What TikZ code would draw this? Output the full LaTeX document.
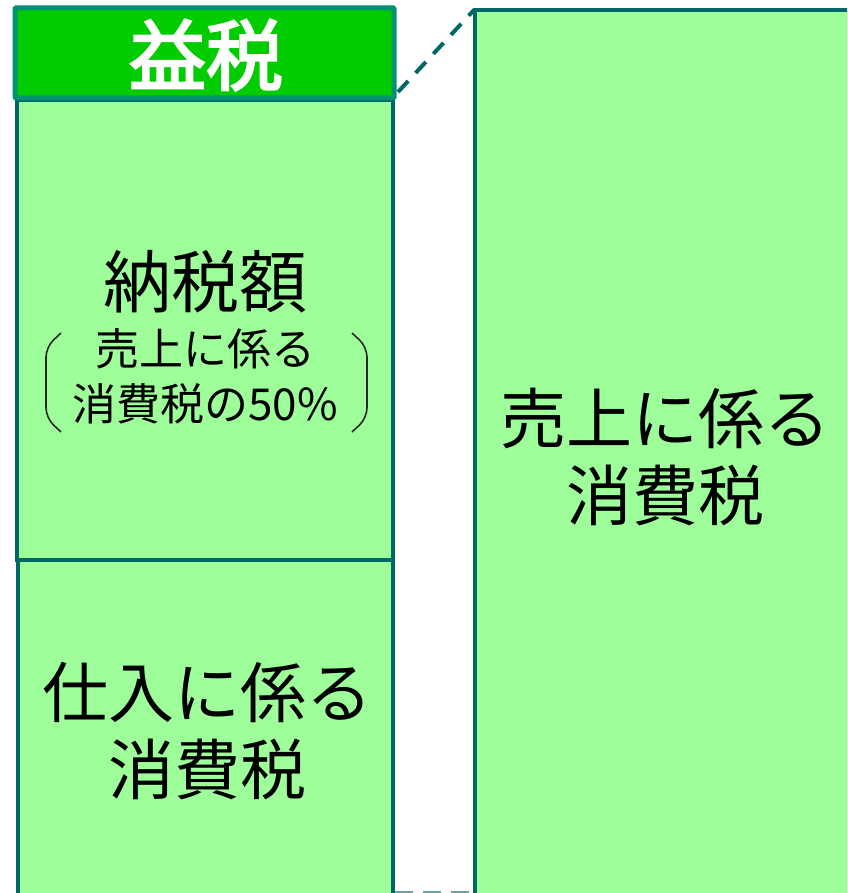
\documentclass[tikz,border=0pt]{standalone}
\usepackage{fontspec}
\newfontfamily\jp{Noto Sans CJK JP}
\newfontfamily\jpm[FakeBold=3]{Noto Sans CJK JP}
\definecolor{lightg}{RGB}{158,255,154}
\definecolor{darkteal}{RGB}{0,102,102}
\definecolor{topfill}{RGB}{0,204,0}
\definecolor{topedge}{RGB}{0,145,110}
\definecolor{brk}{RGB}{40,40,40}
\tikzset{
  box/.style={fill=lightg, draw=darkteal, line width=4.5pt},
  topbox/.style={fill=topfill, draw=topedge, line width=5pt, rounded corners=1pt},
  big/.style={font=\jp\fontsize{66}{77}\selectfont, align=center, inner sep=0pt},
  mid/.style={font=\jp\fontsize{68}{80}\selectfont, inner sep=0pt},
  small/.style={font=\jp\fontsize{44}{55}\selectfont, align=center, inner sep=0pt},
  guide/.style={draw=darkteal, line width=4pt, dash pattern=on 15pt off 11pt}
}
\begin{document}
\begin{tikzpicture}[x=1pt,y=-1pt]
\useasboundingbox (0,0) rectangle (847,893);
\clip (0,0) rectangle (847,893);
% right box
\draw[box] (475,10) rectangle (900,950);
% left stacked boxes
\draw[box] (18,560) rectangle (393,950);
\draw[box] (17,100) rectangle (393,560);
\draw[topbox] (15,8) rectangle (394,98);
% dashed guides
\coordinate (g1) at (398,92);
\coordinate (g2) at (474,10);
\draw[guide] (g1) -- (g2);
\coordinate (g3) at (395,892);
\coordinate (g4) at (475,892);
\draw[draw=darkteal!60, line width=2pt, dash pattern=on 18pt off 10pt] (g3) -- (g4);
% texts
\node[font=\jpm\fontsize{77}{80}\selectfont, text=white, inner sep=0pt] (ekizei) at (206,55) {益税};
\node[mid] (nozei) at (205,282) {納税額};
\node[small] (detail) at (205,376) {売上に係る\\消費税の50\%};
\node[big] (shiire) at (207,731) {仕入に係る\\消費税};
\node[big] (uriage) at (665,457) {売上に係る\\消費税};
% brackets
\draw[brk, line width=1.6pt, rounded corners=10pt] (61,333) -- (46,347) -- (46,418) -- (61,432);
\draw[brk, line width=1.6pt, rounded corners=10pt] (352,333) -- (367,347) -- (367,418) -- (352,432);
\end{tikzpicture}
\end{document}
